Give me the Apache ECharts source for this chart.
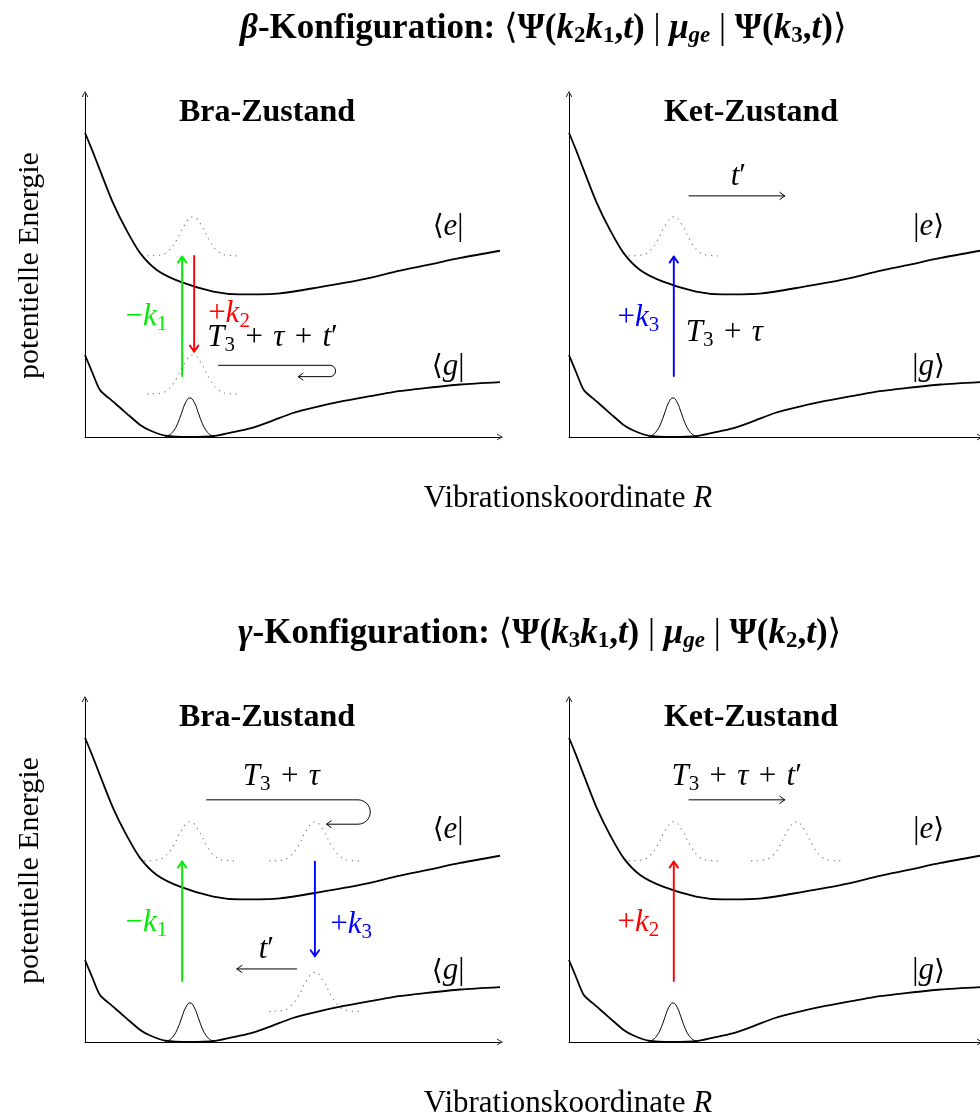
<!DOCTYPE html>
<html>
<head>
<meta charset="utf-8">
<script src="https://cdn.jsdelivr.net/npm/echarts@6/dist/echarts.min.js"></script>
<style>
  html, body { margin: 0; padding: 0; background: #fff; }
  #chart { width: 980px; height: 1120px; }
</style>
</head>
<body>
<div id="chart"></div>
<script>
// Potential energy curves along the vibrational coordinate (panel units 0..10)
const excitedCurve = [[0, 8.87], [0.17, 8.37], [0.36, 7.78], [0.68, 6.81], [1.0, 6.03], [1.33, 5.36],
  [1.73, 4.87], [2.29, 4.53], [3.09, 4.24], [3.74, 4.16], [4.7, 4.19], [5.66, 4.37], [6.63, 4.58],
  [7.59, 4.85], [8.24, 5.01], [9.04, 5.22], [10, 5.43]];
const groundCurve = [[0, 2.39], [0.17, 1.9], [0.36, 1.37], [0.6, 1.11], [0.84, 0.86], [1.0, 0.69],
  [1.33, 0.35], [1.57, 0.19], [1.93, 0.04], [2.53, 0], [3.13, 0.03], [3.49, 0.12], [3.98, 0.25],
  [4.46, 0.45], [5.01, 0.7], [5.66, 0.9], [6.15, 1.03], [6.87, 1.19], [7.42, 1.31], [8.24, 1.43],
  [9.04, 1.53], [10, 1.6]];

// Wave packet shapes: offset from centre, relative height
const packetWide = [[-1.1, 0], [-0.8, 0.02], [-0.6, 0.12], [-0.4, 0.39], [-0.2, 0.79], [0, 1],
  [0.2, 0.79], [0.4, 0.39], [0.6, 0.12], [0.8, 0.02], [1.1, 0]];
const packetNarrow = [[-0.6, 0.01], [-0.5, 0.05], [-0.4, 0.15], [-0.3, 0.34], [-0.2, 0.62], [-0.1, 0.89], [0, 1],
  [0.1, 0.89], [0.2, 0.62], [0.3, 0.34], [0.4, 0.15], [0.5, 0.05], [0.6, 0.01]];
const packetHeight = 1.14;

// Panels: 0 = beta bra, 1 = beta ket, 2 = gamma bra, 3 = gamma ket
const panelHeadings = ['Bra-Zustand', 'Ket-Zustand', 'Bra-Zustand', 'Ket-Zustand'];

// Ground-state packets [panel, centre, baseline]
const groundPackets = [[0, 2.53, 0], [1, 2.53, 0], [2, 2.53, 0], [3, 2.53, 0]];
// Propagated packets [panel, centre, baseline]
const movedPackets = [[0, 2.6, 5.28], [0, 2.6, 1.25], [1, 2.55, 5.28], [2, 2.53, 5.28], [2, 5.54, 5.28],
  [2, 5.54, 0.89], [3, 2.55, 5.28], [3, 5.53, 5.28]];

// Field interactions [panel, x, from energy, to energy, pulse]
const pulseArrows = [[0, 2.34, 1.78, 5.26, 'k1'], [0, 2.63, 5.28, 2.49, 'k2'], [1, 2.55, 1.78, 5.26, 'k3'],
  [2, 2.34, 1.78, 5.26, 'k1'], [2, 5.54, 5.26, 2.5, 'k3'], [3, 2.55, 1.78, 5.26, 'k2']];
// Free propagation [panel, x from, x to, energy]
const timeArrows = [[1, 2.92, 5.25, 7.03], [2, 5.10, 3.66, 2.13], [3, 2.92, 5.25, 7.06]];
// Propagation with return [panel, x start, x turn, upper energy, lower energy, x end]
const returnArrows = [[0, 3.21, 5.9, 2.09, 1.76, 5.14], [2, 2.92, 6.58, 7.06, 6.35, 5.82]];

// Text labels [panel, x, energy, text, pulse or null]
const SP = '\u2004';
const panelLabels = [
  [0, 1.48, 3.50, '{m|−}{mi|k}{ms|1}', 'k1'],
  [0, 3.47, 3.60, '{m|+}{mi|k}{ms|2}', 'k2'],
  [0, 4.52, 2.88, `{mi|T}{ms|3}{m|${SP}+${SP}}{mi|τ}{m|${SP}+${SP}}{mi|t}{m|′}`, null],
  [0, 8.75, 6.12, '{br|⟨}{mi|e}{m||}', null],
  [0, 8.75, 2.04, '{br|⟨}{mi|g}{m||}', null],
  [1, 1.69, 3.47, '{m|+}{mi|k}{ms|3}', 'k3'],
  [1, 3.78, 3.03, `{mi|T}{ms|3}{m|${SP}+${SP}}{mi|τ}`, null],
  [1, 4.12, 7.58, '{mi|t}{m|′}', null],
  [1, 8.75, 6.12, '{m||}{mi|e}{br|⟩}', null],
  [1, 8.75, 2.04, '{m||}{mi|g}{br|⟩}', null],
  [2, 4.73, 7.73, `{mi|T}{ms|3}{m|${SP}+${SP}}{mi|τ}`, null],
  [2, 4.37, 2.69, '{mi|t}{m|′}', null],
  [2, 1.48, 3.48, '{m|−}{mi|k}{ms|1}', 'k1'],
  [2, 6.41, 3.42, '{m|+}{mi|k}{ms|3}', 'k3'],
  [2, 8.75, 6.19, '{br|⟨}{mi|e}{m||}', null],
  [2, 8.75, 2.06, '{br|⟨}{mi|g}{m||}', null],
  [3, 4.08, 7.73, `{mi|T}{ms|3}{m|${SP}+${SP}}{mi|τ}{m|${SP}+${SP}}{mi|t}{m|′}`, null],
  [3, 1.69, 3.48, '{m|+}{mi|k}{ms|2}', 'k2'],
  [3, 8.75, 6.19, '{m||}{mi|e}{br|⟩}', null],
  [3, 8.75, 2.06, '{m||}{mi|g}{br|⟩}', null]
];

const pulseColors = { k1: '#00ee00', k2: '#ff0000', k3: '#0000ff' };
const SERIF = '"Liberation Serif", "DejaVu Serif", serif';

const mathRich = {
  m: { fontFamily: SERIF, fontSize: 31 },
  mi: { fontFamily: SERIF, fontStyle: 'italic', fontSize: 31 },
  ms: { fontFamily: SERIF, fontSize: 21, padding: [15, 0, 0, 0] },
  br: { fontFamily: SERIF, fontSize: 28 }
};

const titleRich = {
  b: { fontFamily: SERIF, fontWeight: 'bold', fontSize: 35, color: '#000' },
  bi: { fontFamily: SERIF, fontWeight: 'bold', fontStyle: 'italic', fontSize: 35, color: '#000' },
  bs: { fontFamily: SERIF, fontWeight: 'bold', fontSize: 23, color: '#000', padding: [16, 0, 0, 0] },
  bsi: { fontFamily: SERIF, fontWeight: 'bold', fontStyle: 'italic', fontSize: 23, color: '#000', padding: [16, 0, 0, 0] },
  t: { fontFamily: SERIF, fontWeight: 'normal', fontSize: 35, color: '#000' }
};

const betaTitle = '{bi|β}{b|-Konfiguration: }{t|⟨}{b|Ψ(}{bi|k}{bs|2}{bi|k}{bs|1}{b|,}{bi|t}{b|)}{t| | }' +
  '{bi|μ}{bsi|ge}{t| | }{b|Ψ(}{bi|k}{bs|3}{b|,}{bi|t}{b|)}{t|⟩}';
const gammaTitle = '{bi|γ}{b|-Konfiguration: }{t|⟨}{b|Ψ(}{bi|k}{bs|3}{bi|k}{bs|1}{b|,}{bi|t}{b|)}{t| | }' +
  '{bi|μ}{bsi|ge}{t| | }{b|Ψ(}{bi|k}{bs|2}{b|,}{bi|t}{b|)}{t|⟩}';

const gridBoxes = [
  { left: 85, top: 94 }, { left: 569, top: 94 },
  { left: 85, top: 699 }, { left: 569, top: 699 }
];
const headingCentres = [[267, 97], [751, 97], [267, 702], [751, 702]];

const axisArrow = 'path://M5,0L10,9L8.6,9L5,2.4L1.4,9L0,9Z';

function axisLineStyle() {
  return {
    show: true,
    onZero: false,
    symbol: ['none', axisArrow],
    symbolSize: [7, 6],
    lineStyle: { color: '#000', width: 1 }
  };
}

function chevron(tip, from, len, half) {
  const dx = tip[0] - from[0], dy = tip[1] - from[1];
  const L = Math.hypot(dx, dy) || 1;
  const ux = dx / L, uy = dy / L;
  return [
    [tip[0] - ux * len + uy * half, tip[1] - uy * len - ux * half],
    [tip[0], tip[1]],
    [tip[0] - ux * len - uy * half, tip[1] - uy * len + ux * half]
  ];
}

const series = [];
for (let p = 0; p < 4; p++) {
  const axes = { xAxisIndex: p, yAxisIndex: p };
  [excitedCurve, groundCurve].forEach(curve => {
    series.push({
      type: 'line', ...axes, data: curve, smooth: 0.25, symbol: 'none', silent: true, z: 3,
      lineStyle: { color: '#000', width: 1.8 }
    });
  });
  groundPackets.filter(d => d[0] === p).forEach(([, c, base]) => {
    series.push({
      type: 'line', ...axes, smooth: true, symbol: 'none', silent: true, z: 2,
      data: packetNarrow.map(([dx, h]) => [c + dx, base + h * packetHeight]),
      lineStyle: { color: '#000', width: 1 }
    });
  });
  movedPackets.filter(d => d[0] === p).forEach(([, c, base]) => {
    series.push({
      type: 'line', ...axes, smooth: true, symbol: 'none', silent: true, z: 2,
      data: packetWide.map(([dx, h]) => [c + dx, base + h * packetHeight]),
      lineStyle: { color: '#777', width: 1.1, type: [1.2, 4.6] }
    });
  });

  // straight arrows: coloured field interactions and thin propagation arrows
  const straight = [];
  pulseArrows.filter(d => d[0] === p).forEach(([, x, y0, y1, k]) => {
    straight.push({ value: [x, y0, x, y1, 1.9], itemStyle: { color: pulseColors[k] } });
  });
  timeArrows.filter(d => d[0] === p).forEach(([, x0, x1, y]) => {
    straight.push({ value: [x0, y, x1, y, 1], itemStyle: { color: '#000' } });
  });
  series.push({
    type: 'custom', ...axes, silent: true, z: 5,
    data: straight,
    renderItem(params, api) {
      const a = api.coord([api.value(0), api.value(1)]);
      const b = api.coord([api.value(2), api.value(3)]);
      const w = api.value(4);
      const color = api.visual('color');
      const style = { stroke: color, lineWidth: w, fill: null, lineCap: 'round', lineJoin: 'round' };
      return {
        type: 'group',
        children: [
          { type: 'polyline', shape: { points: [a, b] }, style },
          { type: 'polyline', shape: { points: chevron(b, a, w > 1.5 ? 6 : 5, w > 1.5 ? 4.2 : 3.6) }, style }
        ]
      };
    }
  });

  const returns = returnArrows.filter(d => d[0] === p).map(([, xs, xt, yt, yb, xe]) => [xs, xt, yt, yb, xe]);
  if (returns.length) {
    series.push({
      type: 'custom', ...axes, silent: true, z: 5,
      data: returns,
      renderItem(params, api) {
        const a = api.coord([api.value(0), api.value(2)]);
        const t = api.coord([api.value(1), api.value(2)]);
        const bt = api.coord([api.value(1), api.value(3)]);
        const e = api.coord([api.value(4), api.value(3)]);
        const r = (bt[1] - t[1]) / 2;
        const cy = t[1] + r;
        const pts = [a];
        for (let i = 0; i <= 16; i++) {
          const ang = -Math.PI / 2 + Math.PI * i / 16;
          pts.push([t[0] + r * Math.cos(ang), cy + r * Math.sin(ang)]);
        }
        pts.push(e);
        const style = { stroke: '#000', lineWidth: 1, fill: null, lineJoin: 'round' };
        return {
          type: 'group',
          children: [
            { type: 'polyline', shape: { points: pts }, style },
            { type: 'polyline', shape: { points: chevron(e, [e[0] + 10, e[1]], 5, 3.6) }, style }
          ]
        };
      }
    });
  }

  series.push({
    type: 'scatter', ...axes, symbolSize: 0, silent: true, z: 6,
    itemStyle: { opacity: 1 },
    data: panelLabels.filter(d => d[0] === p).map(([, x, y, txt, k]) => ({
      value: [x, y],
      label: { formatter: txt, color: k ? pulseColors[k] : '#000' }
    })),
    label: {
      show: true, position: 'inside', align: 'center', verticalAlign: 'middle', opacity: 1,
      fontFamily: SERIF, fontSize: 31, rich: mathRich
    }
  });
}

const titles = [
  { text: betaTitle, left: 240, top: 9, padding: 0, textStyle: { rich: titleRich } },
  { text: gammaTitle, left: 238, top: 614, padding: 0, textStyle: { rich: titleRich } },
  ...panelHeadings.map((h, i) => ({
    text: h, left: headingCentres[i][0], top: headingCentres[i][1], textAlign: 'center', padding: 0,
    textStyle: { fontFamily: SERIF, fontWeight: 'bold', fontSize: 32, color: '#000' }
  })),
  ...[483, 1088].map(top => ({
    text: '{r|Vibrationskoordinate }{ri|R}', left: 568, top, textAlign: 'center', padding: 0,
    textStyle: {
      fontWeight: 'normal',
      rich: {
        r: { fontFamily: SERIF, fontSize: 31, fontWeight: 'normal', color: '#000' },
        ri: { fontFamily: SERIF, fontSize: 31, fontWeight: 'normal', fontStyle: 'italic', color: '#000' }
      }
    }
  }))
];

const option = {
  animation: false,
  backgroundColor: '#fff',
  title: titles,
  grid: gridBoxes.map(g => ({ ...g, width: 415, height: 343, containLabel: false })),
  xAxis: gridBoxes.map((g, i) => ({
    type: 'value', gridIndex: i, min: 0, max: 10,
    axisLine: axisLineStyle(), axisTick: { show: false }, axisLabel: { show: false }, splitLine: { show: false }
  })),
  yAxis: gridBoxes.map((g, i) => ({
    type: 'value', gridIndex: i, min: 0, max: 10,
    name: i % 2 === 0 ? 'potentielle Energie' : '',
    nameLocation: 'middle', nameRotate: 90, nameGap: 40,
    nameTextStyle: { fontFamily: SERIF, fontSize: 30, color: '#000' },
    axisLine: axisLineStyle(), axisTick: { show: false }, axisLabel: { show: false }, splitLine: { show: false }
  })),
  series
};

const chart = echarts.init(document.getElementById('chart'), null, { renderer: 'canvas' });
chart.setOption(option);
</script>
</body>
</html>
